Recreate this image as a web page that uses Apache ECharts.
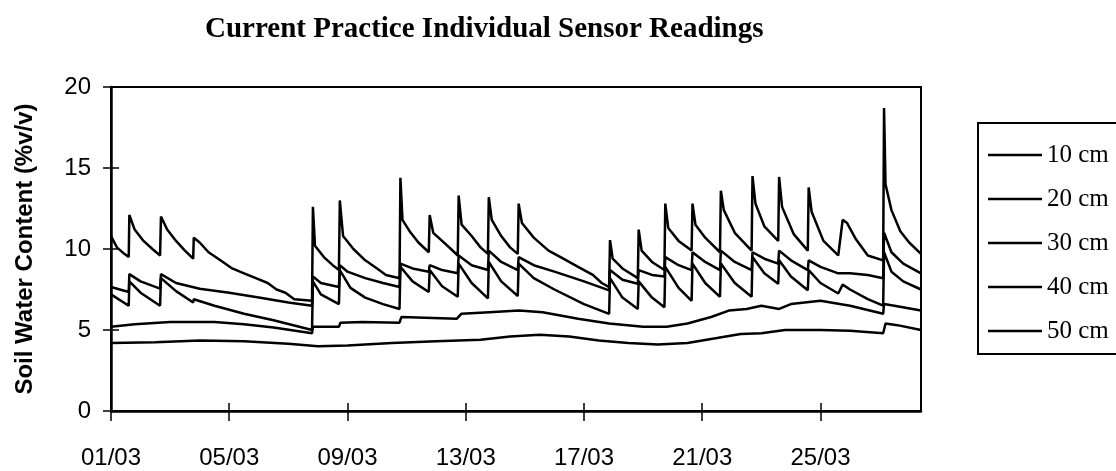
<!DOCTYPE html>
<html>
<head>
<meta charset="utf-8">
<title>Current Practice Individual Sensor Readings</title>
<script src="https://cdn.jsdelivr.net/npm/echarts@6/dist/echarts.min.js"></script>
<style>
  html, body { margin: 0; padding: 0; background: #fff; }
  #chart { width: 1116px; height: 471px; }
</style>
</head>
<body>
<div id="chart"></div>
<script>
// days since 01/03, reading in %v/v
const dateTicks = ['01/03', '05/03', '09/03', '13/03', '17/03', '21/03', '25/03'];
const dayStep = 4;
const seriesNames = ['10 cm', '20 cm', '30 cm', '40 cm', '50 cm'];

const depth10 = [
  [0, 10.8], [0.2, 10.1], [0.45, 9.7], [0.6, 9.5],
  [0.62, 12.1], [0.8, 11.2], [1.1, 10.5], [1.4, 10.0], [1.66, 9.6],
  [1.69, 12.0], [1.9, 11.2], [2.2, 10.5], [2.5, 9.9], [2.78, 9.4],
  [2.8, 10.7], [3.0, 10.4], [3.3, 9.8], [3.7, 9.3], [4.1, 8.8], [4.5, 8.5], [4.9, 8.2],
  [5.3, 7.9], [5.6, 7.5], [5.9, 7.3], [6.2, 6.9], [6.8, 6.8],
  [6.83, 12.6], [6.9, 10.2], [7.2, 9.5], [7.5, 9.0], [7.71, 8.7],
  [7.74, 13.0], [7.85, 10.8], [8.2, 10.0], [8.6, 9.3], [9.0, 8.8], [9.3, 8.4], [9.76, 8.2],
  [9.79, 14.4], [9.86, 11.8], [10.1, 11.1], [10.4, 10.4], [10.75, 9.8],
  [10.78, 12.1], [10.9, 11.0], [11.2, 10.5], [11.5, 10.0], [11.73, 9.6],
  [11.76, 13.3], [11.86, 11.5], [12.2, 10.8], [12.5, 10.1], [12.75, 9.7],
  [12.78, 13.2], [12.88, 11.8], [13.2, 10.8], [13.5, 10.1], [13.76, 9.7],
  [13.79, 12.8], [13.9, 11.6], [14.3, 10.7], [14.8, 9.9], [15.3, 9.4], [15.8, 8.9],
  [16.3, 8.4], [16.6, 7.9], [16.85, 7.65],
  [16.88, 10.55], [16.97, 9.4], [17.3, 8.8], [17.82, 8.2],
  [17.85, 11.2], [17.95, 9.9], [18.3, 9.2], [18.72, 8.7],
  [18.75, 12.8], [18.85, 11.3], [19.2, 10.5], [19.64, 9.9],
  [19.67, 12.8], [19.77, 11.5], [20.1, 10.7], [20.6, 9.8],
  [20.63, 13.6], [20.73, 12.4], [21.1, 11.0], [21.67, 9.9],
  [21.7, 14.5], [21.8, 12.8], [22.1, 11.4], [22.57, 10.5],
  [22.6, 14.45], [22.7, 12.6], [23.1, 10.9], [23.57, 9.9],
  [23.6, 13.8], [23.7, 12.3], [24.1, 10.5], [24.6, 9.6],
  [24.75, 11.8], [24.9, 11.6], [25.2, 10.6], [25.6, 9.6], [26.12, 9.3],
  [26.15, 18.7], [26.2, 14.0], [26.4, 12.4], [26.7, 11.1], [27.0, 10.4], [27.4, 9.7]
];

const depth20 = [
  [0, 7.65], [0.6, 7.35],
  [0.62, 8.45], [1.0, 8.0], [1.66, 7.55],
  [1.69, 8.45], [2.2, 7.9], [3.0, 7.55], [4.0, 7.3], [5.0, 7.0], [6.0, 6.7], [6.8, 6.5],
  [6.83, 8.3], [7.1, 7.9], [7.71, 7.65],
  [7.74, 9.0], [8.0, 8.6], [8.6, 8.2], [9.2, 7.9], [9.76, 7.65],
  [9.79, 9.1], [10.2, 8.8], [10.75, 8.6],
  [10.78, 9.0], [11.2, 8.7], [11.73, 8.5],
  [11.76, 9.6], [12.2, 9.0], [12.75, 8.7],
  [12.78, 9.9], [13.2, 9.2], [13.76, 8.7],
  [13.79, 9.5], [14.3, 9.0], [15.0, 8.6], [16.0, 8.0], [16.85, 7.45],
  [16.88, 8.7], [17.3, 8.1], [17.82, 7.85],
  [17.85, 8.7], [18.3, 8.4], [18.72, 8.3],
  [18.75, 9.5], [19.2, 9.0], [19.64, 8.7],
  [19.67, 9.8], [20.1, 9.2], [20.6, 8.7],
  [20.63, 9.9], [21.1, 9.2], [21.67, 8.7],
  [21.7, 9.8], [22.1, 9.4], [22.57, 9.1],
  [22.6, 9.9], [23.0, 9.3], [23.57, 8.7],
  [23.6, 9.3], [24.0, 8.9], [24.6, 8.5], [25.0, 8.5], [25.6, 8.4], [26.12, 8.2],
  [26.15, 11.0], [26.4, 9.8], [26.8, 9.1], [27.4, 8.5]
];

const depth30 = [
  [0, 7.2], [0.6, 6.5],
  [0.62, 8.0], [1.0, 7.3], [1.66, 6.5],
  [1.69, 8.2], [2.2, 7.4], [2.78, 6.7],
  [2.8, 6.9], [3.5, 6.5], [4.5, 6.0], [5.5, 5.6], [6.8, 5.0],
  [6.83, 8.0], [7.1, 7.2], [7.71, 6.6],
  [7.74, 8.7], [8.1, 7.6], [8.6, 7.0], [9.2, 6.6], [9.76, 6.3],
  [9.79, 8.9], [10.2, 8.0], [10.75, 7.35],
  [10.78, 8.7], [11.2, 7.7], [11.73, 7.05],
  [11.76, 9.1], [12.2, 7.9], [12.75, 6.95],
  [12.78, 9.2], [13.2, 8.0], [13.76, 7.1],
  [13.79, 9.1], [14.3, 8.2], [15.0, 7.5], [16.0, 6.6], [16.85, 6.0],
  [16.88, 8.2], [17.3, 7.0], [17.82, 6.3],
  [17.85, 8.0], [18.3, 7.0], [18.72, 6.4],
  [18.75, 8.9], [19.2, 7.6], [19.64, 6.8],
  [19.67, 9.1], [20.1, 7.9], [20.6, 7.05],
  [20.63, 9.1], [21.1, 7.9], [21.67, 7.05],
  [21.7, 9.5], [22.1, 8.5], [22.57, 7.85],
  [22.6, 9.3], [23.0, 8.3], [23.57, 7.45],
  [23.6, 8.7], [24.0, 7.9], [24.6, 7.25],
  [24.75, 7.8], [25.0, 7.5], [25.6, 6.9], [26.12, 6.5],
  [26.15, 9.8], [26.4, 8.6], [26.8, 8.0], [27.4, 7.5]
];

const depth40 = [
  [0, 5.2], [0.8, 5.35], [2.0, 5.5], [3.5, 5.5], [4.5, 5.35], [5.5, 5.15], [6.8, 4.8],
  [6.83, 5.2], [7.71, 5.2], [7.76, 5.45], [8.5, 5.5], [9.76, 5.45],
  [9.82, 5.8], [11.7, 5.7], [11.85, 6.0], [12.8, 6.1], [13.8, 6.2], [14.6, 6.1],
  [15.8, 5.7], [16.85, 5.4],
  [16.9, 5.5], [18.0, 5.2], [18.8, 5.2], [19.5, 5.4], [20.3, 5.8], [20.9, 6.2],
  [21.5, 6.3], [22.0, 6.5], [22.6, 6.3], [23.0, 6.6], [24.0, 6.8], [25.0, 6.5], [26.12, 6.0],
  [26.15, 6.6], [26.5, 6.5], [27.4, 6.2]
];

const depth50 = [
  [0, 4.2], [1.5, 4.25], [3.0, 4.35], [4.5, 4.3], [6.0, 4.15], [7.0, 4.0], [8.0, 4.05],
  [9.5, 4.2], [11.0, 4.3], [12.5, 4.4], [13.5, 4.6], [14.5, 4.7], [15.5, 4.6], [16.5, 4.35],
  [17.5, 4.2], [18.5, 4.1], [19.5, 4.2], [20.5, 4.5], [21.3, 4.75], [22.0, 4.8], [22.8, 5.0],
  [24.0, 5.0], [25.0, 4.95], [26.12, 4.8],
  [26.2, 5.4], [26.6, 5.3], [27.4, 5.0]
];

const seriesData = [depth10, depth20, depth30, depth40, depth50];

const chart = echarts.init(document.getElementById('chart'));

const tickFont = {
  color: '#000',
  fontFamily: 'Liberation Sans, Arial, sans-serif',
  fontSize: 24
};

const option = {
  animation: false,
  backgroundColor: '#fff',
  title: {
    text: 'Current Practice Individual Sensor Readings',
    left: 205,
    top: 15,
    padding: 0,
    textStyle: {
      fontFamily: 'Liberation Serif, Times New Roman, serif',
      fontWeight: 'bold',
      fontSize: 29,
      color: '#000'
    }
  },
  legend: {
    orient: 'vertical',
    left: 978,
    top: 123,
    padding: [17, 40, 8, 10],
    itemWidth: 54,
    itemHeight: 2.5,
    itemGap: 14,
    icon: 'rect',
    borderColor: '#000',
    borderWidth: 2,
    data: seriesNames,
    textStyle: {
      fontFamily: 'Liberation Serif, Times New Roman, serif',
      fontSize: 25,
      lineHeight: 30,
      color: '#000'
    }
  },
  grid: {
    left: 111,
    right: 195,
    top: 87,
    bottom: 60,
    show: true,
    borderColor: '#000',
    borderWidth: 2,
    containLabel: false
  },
  xAxis: [
    {
      type: 'value',
      min: 0,
      max: 27.4,
      interval: dayStep,
      axisLine: { show: true, lineStyle: { color: '#000', width: 2.5 } },
      axisTick: { show: true, inside: false, length: 10, lineStyle: { color: '#000', width: 1.5 } },
      axisLabel: {
        ...tickFont,
        margin: 35,
        showMaxLabel: false,
        formatter: v => dateTicks[Math.round(v / dayStep)] && Math.abs(v % dayStep) < 1e-6 ? dateTicks[Math.round(v / dayStep)] : ''
      },
      splitLine: { show: false }
    },
    {
      type: 'value',
      min: 0,
      max: 27.4,
      interval: dayStep,
      position: 'bottom',
      axisLine: { show: false },
      axisTick: { show: true, inside: true, length: 8, lineStyle: { color: '#000', width: 1.5 } },
      axisLabel: { show: false },
      splitLine: { show: false }
    }
  ],
  yAxis: [
    {
      type: 'value',
      min: 0,
      max: 20,
      interval: 5,
      name: 'Soil Water Content (%v/v)',
      nameLocation: 'middle',
      nameRotate: 90,
      nameGap: 74,
      nameTextStyle: {
        fontFamily: 'Liberation Sans, Arial, sans-serif',
        fontWeight: 'bold',
        fontSize: 24,
        color: '#000'
      },
      axisLine: { show: true, lineStyle: { color: '#000', width: 2.5 } },
      axisTick: { show: true, inside: false, length: 8, lineStyle: { color: '#000', width: 1.5 } },
      axisLabel: { ...tickFont, margin: 20 },
      splitLine: { show: false }
    },
    {
      type: 'value',
      min: 0,
      max: 20,
      interval: 5,
      position: 'left',
      axisLine: { show: false },
      axisTick: { show: true, inside: true, length: 8, lineStyle: { color: '#000', width: 1.5 } },
      axisLabel: { show: false },
      splitLine: { show: false }
    }
  ],
  series: seriesNames.map((name, i) => ({
    name: name,
    type: 'line',
    xAxisIndex: 0,
    yAxisIndex: 0,
    showSymbol: false,
    symbol: 'none',
    lineStyle: { color: '#000', width: 2.5 },
    itemStyle: { color: '#000' },
    data: seriesData[i]
  }))
};

chart.setOption(option);
</script>
</body>
</html>
